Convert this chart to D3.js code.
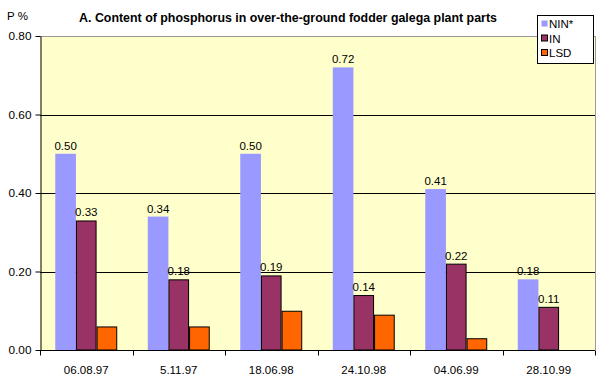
<!DOCTYPE html>
<html><head><meta charset="utf-8">
<script src="https://cdn.jsdelivr.net/npm/d3@7"></script>
<style>body{margin:0;background:#fff}svg{display:block;font-family:"Liberation Sans",Arial,sans-serif}</style>
</head><body><svg id="c" width="600" height="384"></svg>
<script>
const categories = ["06.08.97","5.11.97","18.06.98","24.10.98","04.06.99","28.10.99"];
const seriesNames = ["NIN*","IN","LSD"];
const nin = [0.50,0.34,0.50,0.72,0.41,0.18];
const inn = [0.33,0.18,0.19,0.14,0.22,0.11];
const lsd = [0.06,0.06,0.10,0.09,0.03,null];
const yTicks = [0,0.2,0.4,0.6,0.8];
const colors = ["#9999FF","#993366","#FF6600"];
const title = "A. Content of phosphorus in over-the-ground fodder galega plant parts";
const yTitle = "P %";

const svg = d3.select("#c");
const L=40,R=595,T=36,B=350;
const x = d3.scaleBand().domain(categories).range([L,R]).paddingInner(0.33).paddingOuter(0.165);
const y = d3.scaleLinear().domain([0,0.8]).range([B,T]);
const xs = d3.scaleBand().domain(seriesNames).range([0,x.bandwidth()]);

svg.append("rect").attr("x",L).attr("y",T).attr("width",R-L).attr("height",B-T).attr("fill","#FFFFCC");
svg.append("line").attr("x1",R+0.5).attr("x2",R+0.5).attr("y1",T).attr("y2",B).attr("stroke","#999");
svg.append("line").attr("x1",L).attr("x2",R).attr("y1",T+0.5).attr("y2",T+0.5).attr("stroke","#999");
// grid
svg.append("g").selectAll("line").data(yTicks.filter(d=>d>0 && d<0.8)).join("line")
  .attr("x1",L).attr("x2",R).attr("y1",d=>Math.round(y(d))+0.5).attr("y2",d=>Math.round(y(d))+0.5).attr("stroke","#000");

const data = [nin,inn,lsd];
data.forEach((arr,si)=>{
  const g = svg.append("g");
  g.selectAll("rect").data(arr.map((v,i)=>({v,c:categories[i]})).filter(d=>d.v!=null)).join("rect")
    .attr("x",d=>x(d.c)+xs(seriesNames[si])+(si?0.5:0))
    .attr("y",d=>y(d.v)+(si?0.5:0))
    .attr("width",xs.bandwidth()-(si?1:0))
    .attr("height",d=>B-y(d.v)-(si?0.5:0))
    .attr("fill",colors[si])
    .attr("stroke",si?"#000":"none").attr("stroke-width",1);
  if(si<2){
    g.selectAll("text").data(arr.map((v,i)=>({v,c:categories[i]}))).join("text")
      .attr("x",d=>x(d.c)+xs(seriesNames[si])+xs.bandwidth()/2)
      .attr("y",d=>y(d.v)-4)
      .attr("text-anchor","middle").attr("font-size",11.5).attr("fill","#000")
      .text(d=>d.v.toFixed(2));
  }
});

// y axis
const ya = svg.append("g").attr("transform",`translate(${L+0.5},0)`)
  .call(d3.axisLeft(y).tickValues(yTicks).tickFormat(d3.format(".2f")).tickSize(5).tickSizeOuter(0));
ya.select(".domain").attr("stroke","#000");
ya.selectAll("text").attr("font-size",11.8).attr("font-family","Liberation Sans, Arial").attr("fill","#000").attr("dx",-1);
// x axis
const step = x.step();
const xa = svg.append("g").attr("transform",`translate(0,${B+0.5})`);
xa.append("line").attr("x1",L).attr("x2",R).attr("stroke","#000");
xa.selectAll("line.t").data(d3.range(categories.length+1)).join("line").attr("class","t")
  .attr("x1",i=>Math.round(L+i*step)+0.5).attr("x2",i=>Math.round(L+i*step)+0.5).attr("y1",0).attr("y2",5).attr("stroke","#000");
xa.selectAll("text").data(categories).join("text")
  .attr("x",d=>x(d)+x.bandwidth()/2).attr("y",23).attr("text-anchor","middle")
  .attr("font-size",11.5).attr("fill","#000").text(d=>d);

svg.append("text").attr("x",288).attr("y",22).attr("text-anchor","middle").attr("font-weight","bold").attr("font-size",12.4).text(title);
svg.append("text").attr("x",7).attr("y",20).attr("font-size",11.5).text(yTitle);

// legend
const lg = svg.append("g");
lg.append("rect").attr("x",537.5).attr("y",15.5).attr("width",56).attr("height",48).attr("fill","#fff").attr("stroke","#000");
seriesNames.forEach((n,i)=>{
  const cy = 24+i*14.5;
  lg.append("rect").attr("x",541.5).attr("y",cy-3.5).attr("width",6).attr("height",6).attr("fill",colors[i]).attr("stroke",i?"#000":"none");
  lg.append("text").attr("x",549).attr("y",cy+4).attr("font-size",11.5).text(n);
});
</script></body></html>
